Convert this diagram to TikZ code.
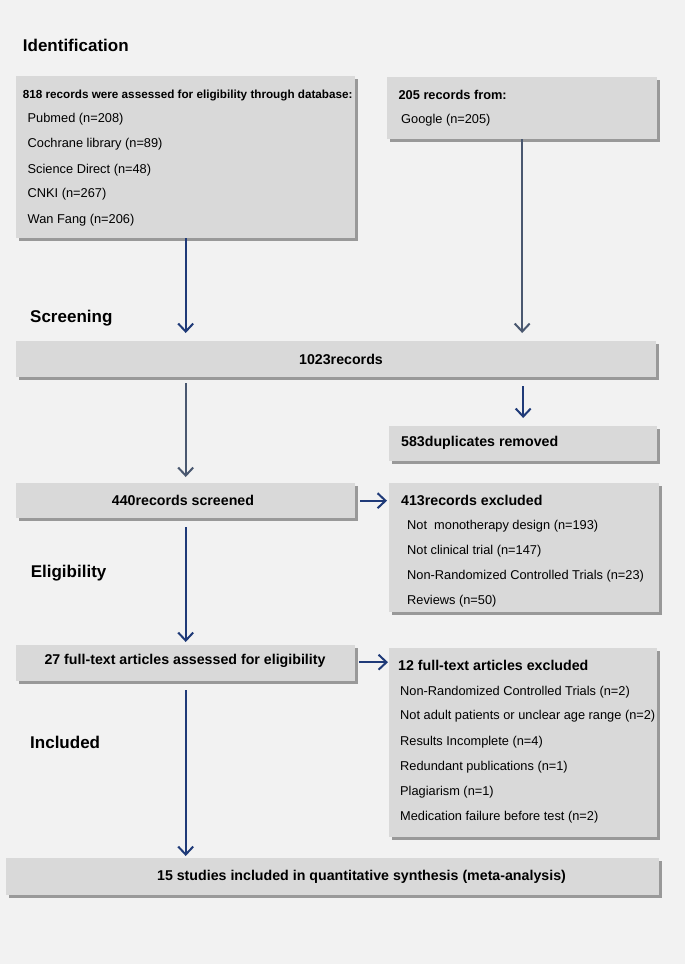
\documentclass[tikz,border=0pt]{standalone}
\usepackage{fontspec}
\setmainfont{Liberation Sans}
\usetikzlibrary{positioning,arrows.meta,shadows,calc}

\definecolor{pagegray}{HTML}{F2F2F2}
\definecolor{boxgray}{HTML}{D9D9D9}
\definecolor{shadegray}{HTML}{999999}
\definecolor{navy}{HTML}{1F3A78}
\definecolor{slate}{HTML}{4A5870}

\tikzset{
	stagebox/.style={rectangle,fill=boxgray,inner sep=0pt,anchor=north west,
		drop shadow={shadow xshift=3pt,shadow yshift=-3pt,fill=shadegray,opacity=1}},
	stagelabel/.style={font=\fontsize{17}{20}\selectfont\bfseries,anchor=west,inner sep=0pt},
	headtext/.style={font=\fontsize{14.2}{17}\selectfont\bfseries,inner sep=0pt},
	itemtext/.style={font=\fontsize{12.8}{15}\selectfont,anchor=west,inner sep=0pt},
	flow/.style={navy,line width=2pt,-{Straight Barb[length=8pt,width=15pt]}},
}

\begin{document}
\begin{tikzpicture}[x=1pt,y=-1pt]
		\fill[pagegray] (0,0) rectangle (685,964);
		\useasboundingbox (0,0) rectangle (685,964);
		
		% stage labels
		\node[stagelabel] (lid) at (22.7,45) {Identification};
		\node[stagelabel] (lsc) at (30,318) {Screening};
		\node[stagelabel] (lel) at (30.6,573) {Eligibility};
		\node[stagelabel] (lin) at (30,742) {Included};
		
		% boxes
		\node[stagebox,minimum width=339pt,minimum height=162pt] (b818) at (16,76) {};
		\node[stagebox,minimum width=270pt,minimum height=62pt] (b205) at (387,77) {};
		\node[stagebox,minimum width=640pt,minimum height=36pt] (b1023) at (16,341) {};
		\node[stagebox,minimum width=268pt,minimum height=35pt] (b583) at (389,426) {};
		\node[stagebox,minimum width=339pt,minimum height=35pt] (b440) at (16,483) {};
		\node[stagebox,minimum width=270pt,minimum height=129pt] (b413) at (389,483) {};
		\node[stagebox,minimum width=339pt,minimum height=36pt] (b27) at (16,645) {};
		\node[stagebox,minimum width=268pt,minimum height=189pt] (b12) at (389,648) {};
		\node[stagebox,minimum width=653pt,minimum height=37pt] (b15) at (6,858) {};
		
		% texts
		\node[itemtext,font=\fontsize{11.7}{14}\selectfont\bfseries] (t818) at (22.7,95)
			{818 records were assessed for eligibility through database:};
		\foreach \txt/\yy [count=\i] in {Pubmed (n=208)/119,Cochrane library (n=89)/144,
			Science Direct (n=48)/170,CNKI (n=267)/194,Wan Fang (n=206)/220}
			\node[itemtext] (d\i) at (27.5,\yy) {\txt};
		
		\node[itemtext,font=\fontsize{12.8}{15}\selectfont\bfseries] (t205) at (398.4,95) {205 records from:};
		\node[itemtext] (g1) at (401,120) {Google (n=205)};
		
		\node[headtext] (t1023) at (341,359) {1023records};
		\node[headtext,anchor=west] (t583) at (401,443) {583duplicates removed};
		\node[headtext] (t440) at (183,500) {440records screened};
		
		\node[headtext,anchor=west] (t413) at (401,500) {413records excluded};
		\foreach \txt/\yy [count=\i] in {Not~ monotherapy design (n=193)/526,Not clinical trial (n=147)/551,
			Non-Randomized Controlled Trials (n=23)/576,Reviews (n=50)/601}
			\node[itemtext] (r\i) at (407,\yy) {\txt};
		
		\node[headtext] (t27) at (185,661) {27 full-text articles assessed for eligibility};
		
		\node[headtext,anchor=west] (t12) at (398,665) {12 full-text articles excluded};
		\foreach \txt/\yy [count=\i] in {Non-Randomized Controlled Trials (n=2)/692,
			Not adult patients or unclear age range (n=2)/716,Results Incomplete (n=4)/742,
			Redundant publications (n=1)/767,Plagiarism (n=1)/792,Medication failure before test (n=2)/817}
			\node[itemtext] (f\i) at (400,\yy) {\txt};
		
		\node[headtext] (t15) at (361.5,877) {15 studies included in quantitative synthesis (meta-analysis)};
		
		% arrows
		\draw[flow,shorten >=8pt] (b818.south) -- (b818.south |- b1023.north);
		\draw[flow,slate,shorten >=8pt] (b205.south) -- (b205.south |- b1023.north);
		\draw[flow,slate,shorten <=6pt,shorten >=6pt] (b440.north |- b1023.south) -- (b440.north);
		\draw[flow,shorten <=9pt,shorten >=8pt] (b583.north |- b1023.south) -- (b583.north);
		\draw[flow,shorten <=5pt,shorten >=2pt] (b440.east) -- (b440.east -| b413.west);
		\draw[flow,shorten <=9pt,shorten >=3pt] (b440.south) -- (b27.north);
		\draw[flow,shorten <=4pt,shorten >=1pt] ([yshift=1pt]b27.east) -- ([yshift=1pt]b27.east -| b12.west);
		\draw[flow,shorten <=9pt,shorten >=2pt] (b27.south) -- (b27.south |- b15.north);
		
	\end{tikzpicture}
\end{document}
